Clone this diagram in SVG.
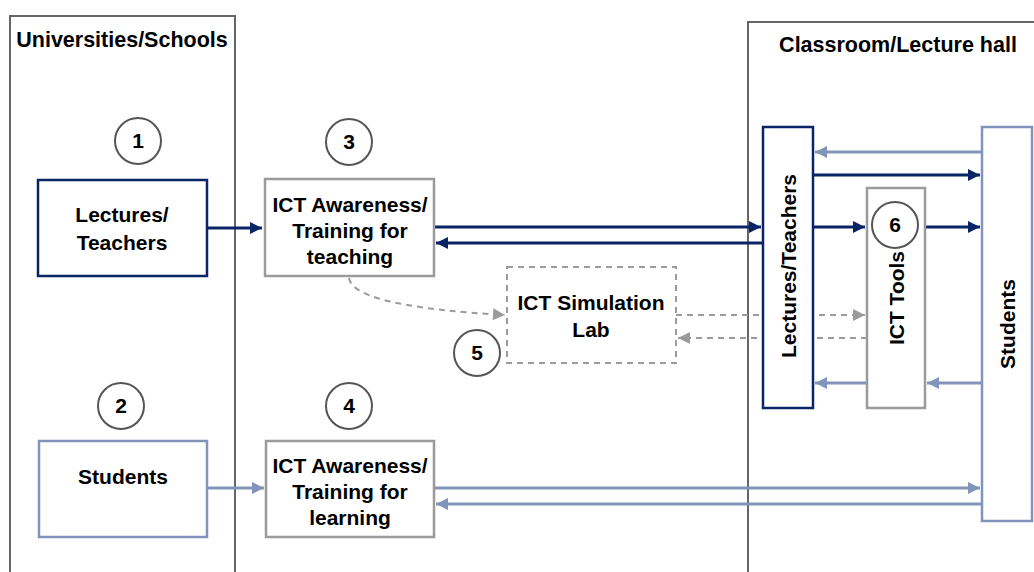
<svg xmlns="http://www.w3.org/2000/svg" width="1034" height="572" viewBox="0 0 1034 572">
<style>
  text { font-family: "Liberation Sans", Arial, sans-serif; font-weight: bold; fill: #000; text-anchor: middle; }
  .title { font-size: 21.5px; }
  .lbl { font-size: 21px; }
  .num { font-size: 21px; }
  .cont { fill: none; stroke: #666; stroke-width: 2; }
  .navybox { fill: #fff; stroke: #0a2566; stroke-width: 2.5; }
  .bluebox { fill: #fff; stroke: #8394ba; stroke-width: 2.5; }
  .graybox { fill: #fff; stroke: #9b9b9b; stroke-width: 2.5; }
  .dashbox { fill: #fff; stroke: #9b9b9b; stroke-width: 2; stroke-dasharray: 6 5; }
  .circ { fill: #fff; stroke: #555; stroke-width: 2; }
  .navy { stroke: #0a2566; stroke-width: 3; fill: none; }
  .blue { stroke: #8394ba; stroke-width: 3; fill: none; }
  .dash { stroke: #9b9b9b; stroke-width: 2; fill: none; stroke-dasharray: 6 5; }
</style>
<defs>
  <marker id="aN" viewBox="0 0 10 10" refX="10" refY="5" markerWidth="5.5" markerHeight="4" markerUnits="strokeWidth" orient="auto"><path d="M0,0 L10,5 L0,10 z" fill="#0a2566"/></marker>
  <marker id="aB" viewBox="0 0 10 10" refX="10" refY="5" markerWidth="5.5" markerHeight="4" markerUnits="strokeWidth" orient="auto"><path d="M0,0 L10,5 L0,10 z" fill="#8394ba"/></marker>
  <marker id="aG" viewBox="0 0 10 10" refX="10" refY="5" markerWidth="8" markerHeight="6" markerUnits="strokeWidth" orient="auto"><path d="M0,0 L10,5 L0,10 z" fill="#9b9b9b"/></marker>
</defs>
<rect width="1034" height="572" fill="#fff"/>

<g id="container-universities">
  <path class="cont" d="M10,580 V16 H235 V580"/>
  <text class="title" x="122" y="47">Universities/Schools</text>
</g>
<g id="container-classroom">
  <path class="cont" d="M748,580 V22 H1040"/>
  <text class="title" x="898" y="52">Classroom/Lecture hall</text>
</g>

<g id="connectors">
  <line class="navy" x1="207" y1="228" x2="262" y2="228" marker-end="url(#aN)"/>
  <line class="navy" x1="434" y1="227" x2="761" y2="227" marker-end="url(#aN)"/>
  <line class="navy" x1="763" y1="243" x2="436" y2="243" marker-end="url(#aN)"/>
  <line class="blue" x1="982" y1="152" x2="815" y2="152" marker-end="url(#aB)"/>
  <line class="navy" x1="813" y1="175" x2="980" y2="175" marker-end="url(#aN)"/>
  <line class="navy" x1="813" y1="227" x2="865" y2="227" marker-end="url(#aN)"/>
  <line class="navy" x1="925" y1="227" x2="980" y2="227" marker-end="url(#aN)"/>
  <line class="blue" x1="867" y1="383" x2="815" y2="383" marker-end="url(#aB)"/>
  <line class="blue" x1="982" y1="383" x2="927" y2="383" marker-end="url(#aB)"/>
  <line class="blue" x1="207" y1="488" x2="264" y2="488" marker-end="url(#aB)"/>
  <line class="blue" x1="434" y1="488" x2="980" y2="488" marker-end="url(#aB)"/>
  <line class="blue" x1="982" y1="504" x2="436" y2="504" marker-end="url(#aB)"/>
  <path class="dash" d="M349,278 C352,300 420,310 505,315" marker-end="url(#aG)"/>
  <line class="dash" x1="676" y1="315" x2="865" y2="315" marker-end="url(#aG)"/>
  <line class="dash" x1="867" y1="338" x2="678" y2="338" marker-end="url(#aG)"/>
</g>

<g id="node-c1"><circle class="circ" cx="138" cy="141" r="23"/><text class="num" x="138" y="148">1</text></g>
<g id="node-lecturers">
  <rect class="navybox" x="38" y="180" width="169" height="96"/>
  <text class="lbl" x="122" y="222">Lectures/</text>
  <text class="lbl" x="122" y="250">Teachers</text>
</g>
<g id="node-c3"><circle class="circ" cx="349" cy="142" r="23"/><text class="num" x="349" y="149">3</text></g>
<g id="node-ict-teaching">
  <rect class="graybox" x="265" y="179" width="169" height="97"/>
  <text class="lbl" x="350" y="212">ICT Awareness/</text>
  <text class="lbl" x="350" y="238">Training for</text>
  <text class="lbl" x="350" y="264">teaching</text>
</g>
<g id="node-simlab">
  <rect class="dashbox" x="507" y="267" width="169" height="96"/>
  <text class="lbl" x="591" y="310">ICT Simulation</text>
  <text class="lbl" x="591" y="337">Lab</text>
</g>
<g id="node-c5"><circle class="circ" cx="477" cy="353" r="23"/><text class="num" x="477" y="360">5</text></g>
<g id="node-c2"><circle class="circ" cx="121" cy="406" r="23"/><text class="num" x="121" y="413">2</text></g>
<g id="node-students">
  <rect class="bluebox" x="39" y="441" width="168" height="96"/>
  <text class="lbl" x="123" y="484">Students</text>
</g>
<g id="node-c4"><circle class="circ" cx="349" cy="406" r="23"/><text class="num" x="349" y="413">4</text></g>
<g id="node-ict-learning">
  <rect class="graybox" x="266" y="441" width="168" height="96"/>
  <text class="lbl" x="350" y="473">ICT Awareness/</text>
  <text class="lbl" x="350" y="499">Training for</text>
  <text class="lbl" x="350" y="525">learning</text>
</g>
<g id="node-lecturers-v">
  <rect class="navybox" x="763" y="127" width="50" height="281"/>
  <text class="lbl" transform="translate(796,266) rotate(-90)">Lectures/Teachers</text>
</g>
<g id="node-icttools">
  <rect class="graybox" x="867" y="188" width="58" height="220"/>
  <text class="lbl" transform="translate(904,298) rotate(-90)">ICT Tools</text>
</g>
<g id="node-c6"><circle class="circ" cx="895" cy="225" r="23"/><text class="num" x="895" y="232">6</text></g>
<g id="node-students-v">
  <rect class="bluebox" x="982" y="127" width="50" height="394"/>
  <text class="lbl" transform="translate(1015,324) rotate(-90)">Students</text>
</g>
</svg>
